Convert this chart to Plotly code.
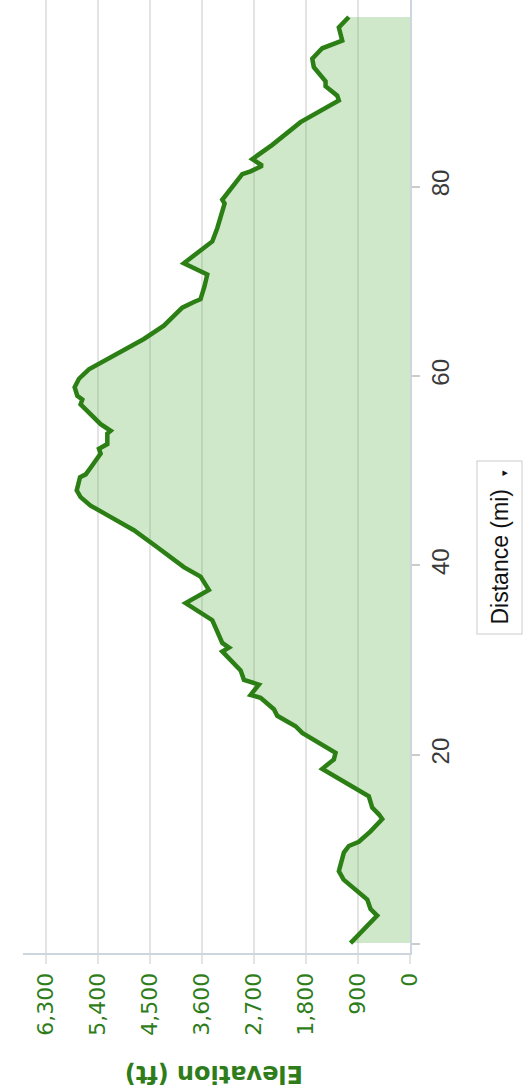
import plotly.graph_objects as go

# Distance along route (mi) and elevation (ft)
distance_mi = [0.1, 3.0, 3.7, 4.7, 6.8, 7.7, 9.65, 10.35, 10.8, 11.9, 13.2, 13.7, 14.4, 15.6,
               18.5, 19.5, 20.2, 22.3, 23.0, 24.1, 24.8, 26.0, 26.3, 27.4, 27.9, 28.9,
               30.9, 31.3, 31.8, 34.2, 36.0, 37.4, 38.8, 39.8, 41.9, 43.7, 45.3, 46.3,
               47.2, 47.9, 49.3, 49.6, 50.3, 51.8, 52.3, 52.8, 53.9, 54.2, 54.9, 57.0,
               57.5, 57.9, 58.8, 59.7, 60.7, 61.4, 62.3, 63.9, 65.3, 67.2, 67.8, 68.1,
               69.5, 70.7, 71.9, 73.3, 74.2, 75.6, 76.8, 77.5, 78.2, 78.6, 81.3, 81.6,
               82.2, 82.9, 84.4, 86.8, 87.4, 89.1, 89.6, 90.6, 91.1, 92.6, 93.5, 94.6,
               95.4, 96.8, 97.9]
elevation_ft = [1030, 568, 683, 740, 1150, 1232, 1145, 1059, 886, 683, 481, 540, 654, 713,
                1519, 1318, 1289, 1865, 1981, 2298, 2356, 2587, 2760, 2616, 2875, 2933,
                3250, 3135, 3250, 3423, 3885, 3482, 3626, 3915, 4375, 4780, 5240, 5530,
                5703, 5770, 5713, 5614, 5530, 5356, 5385, 5240, 5240, 5182, 5356, 5703,
                5673, 5760, 5806, 5731, 5559, 5356, 5067, 4607, 4261, 3943, 3741, 3626,
                3556, 3510, 3915, 3596, 3423, 3337, 3280, 3250, 3210, 3250, 2904, 2760,
                2557, 2730, 2384, 1895, 1722, 1232, 1260, 1462, 1462, 1665, 1692, 1519,
                1173, 1232, 1059]

elev_ticks = [0, 900, 1800, 2700, 3600, 4500, 5400, 6300]
elev_tick_labels = [f"{v:,}" for v in elev_ticks]
dist_ticks = [0, 20, 40, 60, 80]
dist_tick_labels = ["", "20", "40", "60", "80"]

GREEN = "#2b7f14"
LABEL_GREEN = "#2e7d1a"

fig = go.Figure()
fig.add_trace(go.Scatter(
    x=elevation_ft, y=distance_mi, mode="lines", fill="tozerox",
    line=dict(color=GREEN, width=4.5),
    fillcolor="rgba(100,180,80,0.30)",
    hoverinfo="skip", showlegend=False,
))

fig.update_layout(
    width=530, height=1089,
    margin=dict(l=23, r=120, t=0, b=136),
    paper_bgcolor="white", plot_bgcolor="white",
    xaxis=dict(
        range=[6700, 0], tickvals=elev_ticks, ticktext=elev_tick_labels,
        tickangle=-90, showgrid=True, gridcolor="#e4e4e4", gridwidth=2,
        ticks="outside", ticklen=9, tickwidth=2, tickcolor="#e4e4e4",
        showline=True, linecolor="#cdd5df", linewidth=2, zeroline=False,
        tickfont=dict(family="DejaVu Sans", size=22, color=LABEL_GREEN),
    ),
    yaxis=dict(
        side="right", range=[-0.95, 99.7], tickvals=dist_ticks, ticktext=dist_tick_labels,
        tickangle=-90, showgrid=False, ticks="outside", ticklen=8, tickwidth=2,
        tickcolor="#cccccc", showline=True, linecolor="#cdd5df", linewidth=2,
        zeroline=False,
        tickfont=dict(family="Liberation Sans, Arial", size=24, color="#3a3a3a"),
    ),
    annotations=[
        dict(text="Elevation (ft)", xref="paper", yref="paper",
             x=(214 - 23) / 387, y=(953 - 1074) / 953, showarrow=False,
             textangle=180, xanchor="center", yanchor="middle",
             font=dict(family="DejaVu Sans", size=24, color=LABEL_GREEN, weight="bold")),
        dict(text="Distance (mi)  <span style='font-size:11px'>▾</span>",
             xref="paper", yref="paper",
             x=(499 - 23) / 387, y=(953 - 547.5) / 953, showarrow=False,
             textangle=-90, xanchor="center", yanchor="middle",
             bordercolor="#cccccc", borderwidth=1, borderpad=9, bgcolor="white",
             font=dict(family="Liberation Sans, Arial", size=23, color="#111111")),
    ],
)

fig.write_html("out.html", config={"displayModeBar": False},
               post_script="document.body.style.margin='0';document.body.style.overflow='hidden';")
